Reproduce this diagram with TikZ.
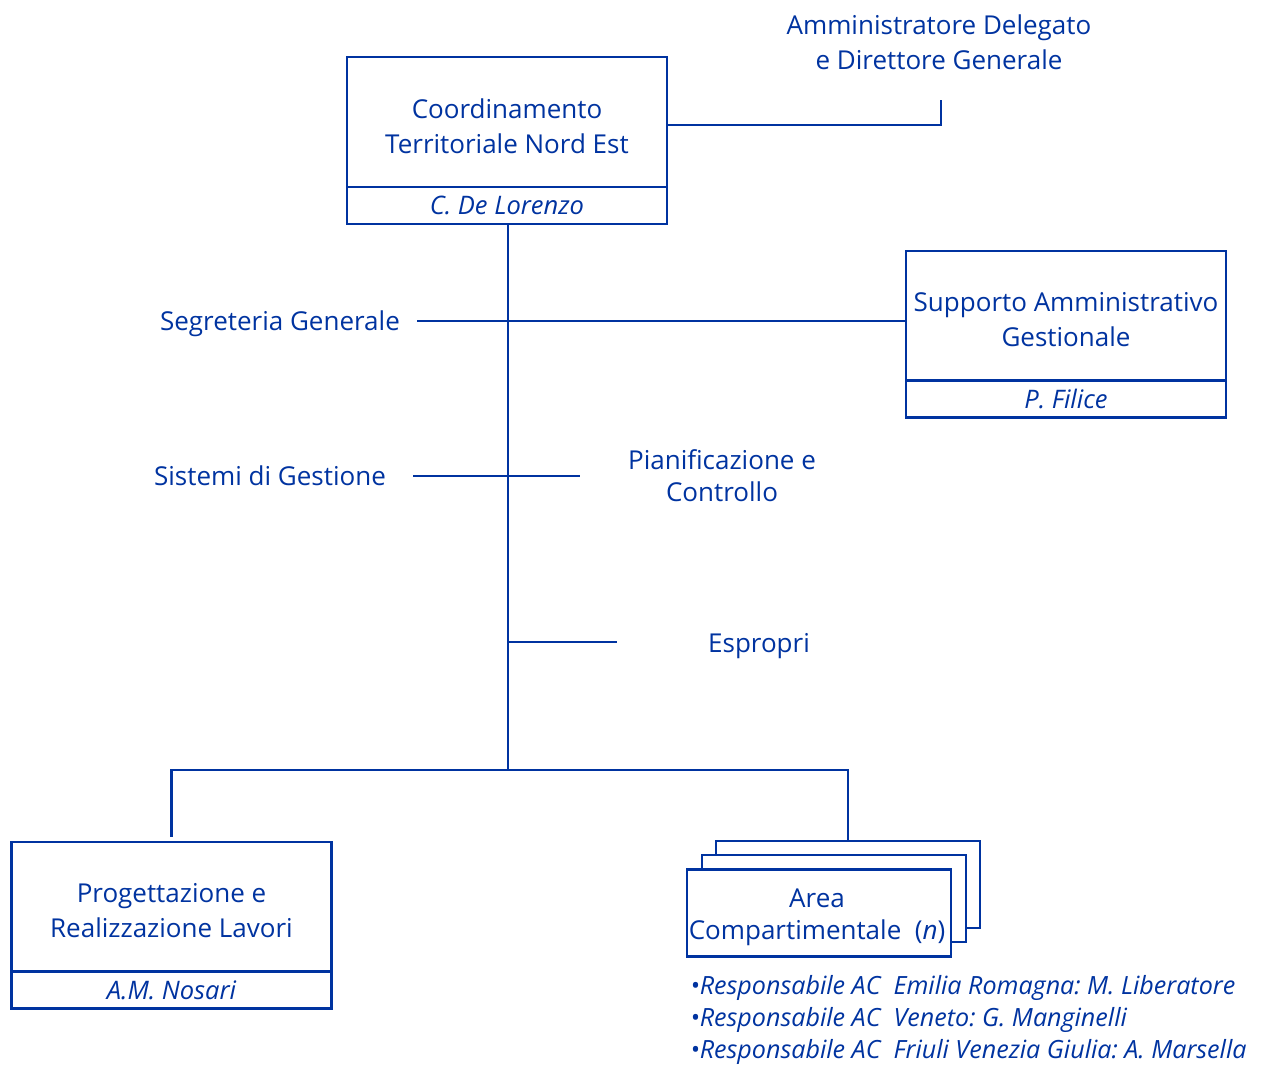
\documentclass[tikz,border=0pt]{standalone}
\usepackage{fontspec}
\setmainfont{Open Sans}
\frenchspacing
\definecolor{ab}{RGB}{0,51,160}
\begin{document}
\begin{tikzpicture}[x=1pt,y=-1pt,line width=2.7pt,draw=ab,
  lbl/.style={text=ab,align=center,inner sep=0,font=\fontsize{26}{35}\selectfont},
  unitbox/.style={draw=ab,fill=white,line width=2.7pt,minimum width=320,minimum height=130,inner sep=0,
     label={[lbl,yshift=-4]center:#1}},
  namebox/.style={draw=ab,fill=white,line width=2.7pt,minimum width=320,minimum height=37,inner sep=0,text=ab,font=\fontsize{25.5}{30}\selectfont\itshape},
  stackbox/.style={draw=ab,fill=white,line width=2.7pt,minimum width=264,minimum height=87,inner sep=0},
  resp/.style={text=ab,align=left,anchor=west,inner sep=0,font=\fontsize{25.1}{32}\selectfont\itshape}]
\useasboundingbox (0,0) rectangle (1268,1066);

% top box
\node[unitbox={Coordinamento\\Territoriale Nord Est}] (ct) at (507,122) {};
\node[namebox] (ctn) at (507,205.5) {C. De Lorenzo};

\node[lbl] (ad) at (939,42) {Amministratore Delegato\\e Direttore Generale};
\coordinate (adc) at (941,100);
\draw ([yshift=-3]ct.east) -| (adc);

% trunk
\coordinate (j) at (508,770);
\draw (ctn.south -| j) -- (j);

% Supporto
\node[unitbox={Supporto Amministrativo\\Gestionale}] (sup) at (1066,316) {};
\node[namebox] (supn) at (1066,399) {P. Filice};

% Segreteria
\node[lbl] (seg) at (280,324) {Segreteria Generale};
\coordinate (segL) at (417,321);
\draw (segL) -- (segL -| sup.west);

% Sistemi / Pianificazione
\node[lbl] (sis) at (270,476) {Sistemi di Gestione};
\node[lbl,font=\fontsize{26}{32}\selectfont] (pia) at (722,476) {Pianificazione e\\Controllo};
\coordinate (sisL) at (413,476);
\coordinate (piaR) at (580,476);
\draw (sisL) -- (piaR);

% Espropri
\node[lbl] (esp) at (759,646) {Espropri};
\coordinate (espR) at (617,642);
\draw (espR -| j) -- (espR);

% bottom boxes
\node[unitbox={Progettazione e\\Realizzazione Lavori}] (prog) at (171.5,907) {};
\node[namebox] (progn) at (171.5,990) {A.M. Nosari};

\node[stackbox] (back) at (848,884.5) {};
\node[stackbox] (mid) at (834,898.5) {};
\node[stackbox] (area) at (819,913) {};
\node[lbl,font=\fontsize{26}{32}\selectfont] (areat) at (817,917) {Area\\Compartimentale\ \ (\textit{n})};

\draw ([yshift=4]prog.north) |- (j) -| (back.north);

% responsabili
\node[resp] (r1) at (689,988) {\textbullet Responsabile AC\ \ Emilia Romagna: M. Liberatore};
\node[resp] (r2) at (689,1020) {\textbullet Responsabile AC\ \ Veneto: G. Manginelli};
\node[resp] (r3) at (689,1052) {\textbullet Responsabile AC\ \ Friuli Venezia Giulia: A. Marsella};
\end{tikzpicture}
\end{document}
